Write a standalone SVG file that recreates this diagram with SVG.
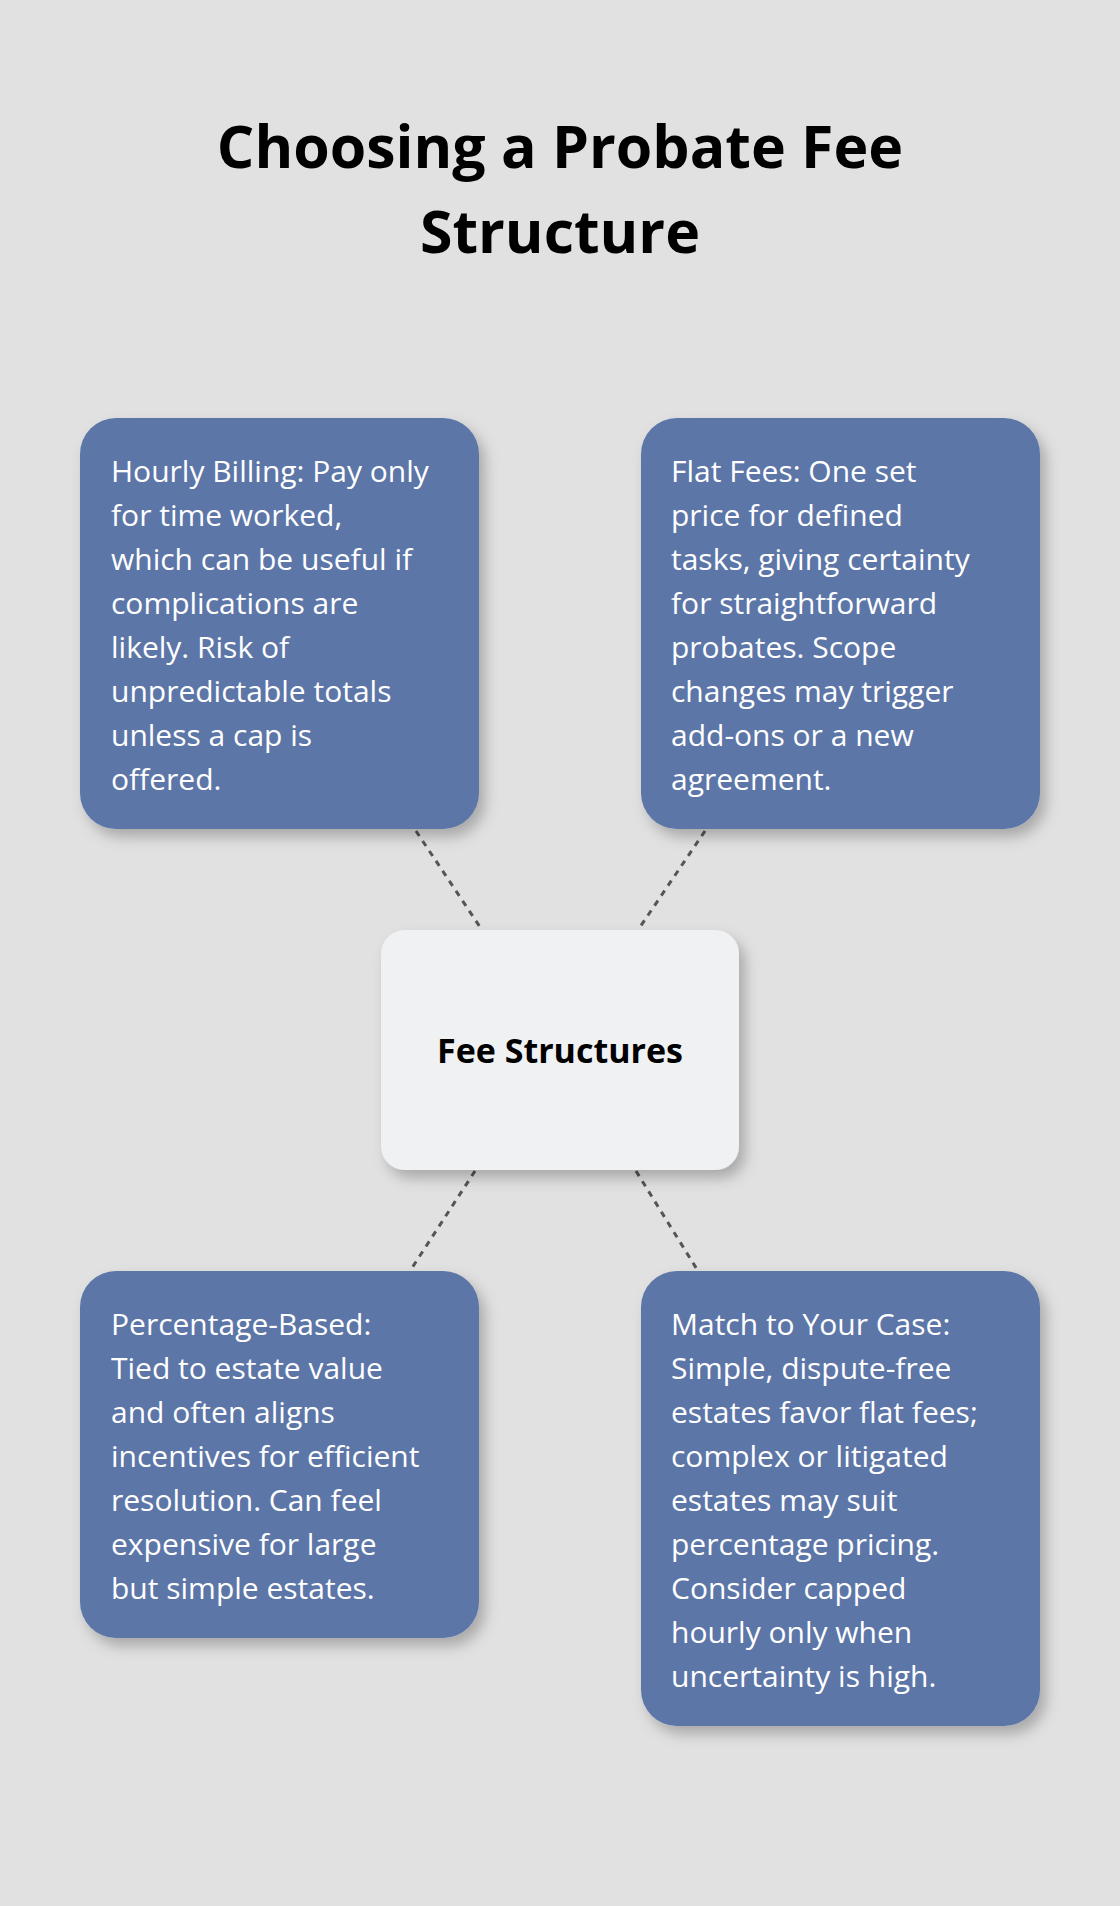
<svg xmlns="http://www.w3.org/2000/svg" width="1120" height="1906" viewBox="0 0 1120 1906">
<defs>
<filter id="sh" x="-20%" y="-20%" width="140%" height="140%"><feDropShadow dx="6" dy="8" stdDeviation="7" flood-color="#000" flood-opacity="0.25"/></filter>
<style>
.box{fill:#5d76a8;filter:url(#sh)}
.t{font-family:"Open Sans","Noto Sans",sans-serif;font-size:30px;fill:#fff}
.c{stroke:#555;stroke-width:3;stroke-dasharray:6,6;fill:none}
</style>
</defs>
<rect width="1120" height="1906" fill="#e0e1e0"/>
<g id="title" font-family="'Open Sans','Noto Sans',sans-serif" font-weight="bold" font-size="59" text-anchor="middle" fill="#000">
<text x="560" y="168">Choosing a Probate Fee</text>
<text x="560" y="253">Structure</text>
</g>
<g id="connectors">
<line class="c" x1="416" y1="831" x2="482" y2="930"/>
<line class="c" x1="705" y1="831" x2="638" y2="930"/>
<line class="c" x1="475" y1="1171" x2="410" y2="1271"/>
<line class="c" x1="636" y1="1171" x2="698" y2="1271"/>
</g>
<g id="center">
<rect x="381" y="930" width="358" height="240" rx="24" fill="#f0f1f3" filter="url(#sh)"/>
<text x="560" y="1063" text-anchor="middle" font-family="'Open Sans','Noto Sans',sans-serif" font-weight="bold" font-size="34" fill="#000">Fee Structures</text>
</g>
<g id="hourly">
<rect class="box" x="80" y="418" width="399" height="411" rx="36"/>
<text class="t" x="111" y="482"><tspan x="111">Hourly Billing: Pay only</tspan><tspan x="111" dy="44">for time worked,</tspan><tspan x="111" dy="44">which can be useful if</tspan><tspan x="111" dy="44">complications are</tspan><tspan x="111" dy="44">likely. Risk of</tspan><tspan x="111" dy="44">unpredictable totals</tspan><tspan x="111" dy="44">unless a cap is</tspan><tspan x="111" dy="44">offered.</tspan></text>
</g>
<g id="flat">
<rect class="box" x="641" y="418" width="399" height="411" rx="36"/>
<text class="t" x="671" y="482"><tspan x="671">Flat Fees: One set</tspan><tspan x="671" dy="44">price for defined</tspan><tspan x="671" dy="44">tasks, giving certainty</tspan><tspan x="671" dy="44">for straightforward</tspan><tspan x="671" dy="44">probates. Scope</tspan><tspan x="671" dy="44">changes may trigger</tspan><tspan x="671" dy="44">add-ons or a new</tspan><tspan x="671" dy="44">agreement.</tspan></text>
</g>
<g id="percentage">
<rect class="box" x="80" y="1271" width="399" height="367" rx="36"/>
<text class="t" x="111" y="1335"><tspan x="111">Percentage-Based:</tspan><tspan x="111" dy="44">Tied to estate value</tspan><tspan x="111" dy="44">and often aligns</tspan><tspan x="111" dy="44">incentives for efficient</tspan><tspan x="111" dy="44">resolution. Can feel</tspan><tspan x="111" dy="44">expensive for large</tspan><tspan x="111" dy="44">but simple estates.</tspan></text>
</g>
<g id="match">
<rect class="box" x="641" y="1271" width="399" height="455" rx="36"/>
<text class="t" x="671" y="1335"><tspan x="671">Match to Your Case:</tspan><tspan x="671" dy="44">Simple, dispute-free</tspan><tspan x="671" dy="44">estates favor flat fees;</tspan><tspan x="671" dy="44">complex or litigated</tspan><tspan x="671" dy="44">estates may suit</tspan><tspan x="671" dy="44">percentage pricing.</tspan><tspan x="671" dy="44">Consider capped</tspan><tspan x="671" dy="44">hourly only when</tspan><tspan x="671" dy="44">uncertainty is high.</tspan></text>
</g>
</svg>
